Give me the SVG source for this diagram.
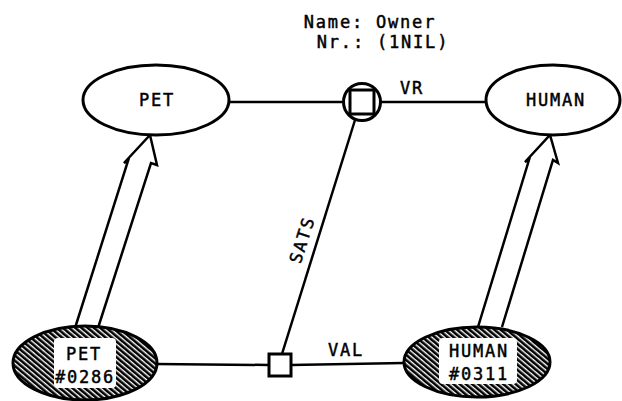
<svg xmlns="http://www.w3.org/2000/svg" width="622" height="401" viewBox="0 0 622 401">
<style>
.t{font-family:"DejaVu Sans Mono","Liberation Mono",monospace;font-size:17px;letter-spacing:1.8px;fill:#000;stroke:#000;stroke-width:0.45;text-anchor:middle}
.o{fill:#fff;stroke:#000;stroke-width:3}
.h{fill:url(#hatch);stroke:#000;stroke-width:3}
.c{fill:none;stroke:#000;stroke-width:2.5;stroke-linejoin:round}
.a{fill:none;stroke:#000;stroke-width:2.5;stroke-linejoin:miter}
</style>
<defs>
<pattern id="hatch" patternUnits="userSpaceOnUse" width="4" height="4" patternTransform="rotate(-50)">
<rect width="4" height="4" fill="#fff"/>
<rect width="2.6" height="4" fill="#000"/>
</pattern>
</defs>
<rect width="622" height="401" fill="#fff"/>
<g id="connectors">
<line class="c" x1="229" y1="102" x2="344" y2="102"/>
<line class="c" x1="380" y1="102" x2="486" y2="102"/>
<line class="c" x1="355" y1="120" x2="282" y2="354"/>
<line class="c" x1="156" y1="364" x2="269" y2="365"/>
<line class="c" x1="291" y1="365" x2="404" y2="363"/>
<path class="a" d="M75,328 L128,161 L124,163 L150,135 L157,165 L151,163 L98,328"/>
<path class="a" d="M478,327 L529,160 L525,162 L550,135 L558,163 L553,160 L502,327"/>
<text class="t" x="412" y="94">VR</text>
<text class="t" x="346" y="356">VAL</text>
<text class="t" transform="translate(303,240) rotate(-72.5)" y="5">SATS</text>
</g>
<g id="title">
<text class="t" x="370" y="28">Name: Owner</text>
<text class="t" x="383" y="48">Nr.: (1NIL)</text>
</g>
<g id="pet">
<ellipse class="o" cx="156" cy="100" rx="73" ry="35"/>
<text class="t" x="157" y="106">PET</text>
</g>
<g id="human">
<ellipse class="o" cx="553" cy="100" rx="67" ry="35"/>
<text class="t" x="556" y="106">HUMAN</text>
</g>
<g id="owner">
<circle class="o" cx="362" cy="102" r="18.5"/>
<rect class="o" x="350" y="90" width="24" height="24" stroke-width="2.5"/>
</g>
<g id="val">
<rect class="o" x="269" y="354" width="22" height="22" stroke-width="2.5"/>
</g>
<g id="pet0286">
<ellipse class="h" cx="85" cy="363" rx="72" ry="37"/>
<rect x="54" y="338" width="62" height="50" rx="4" fill="#fff"/>
<text class="t" x="84" y="360">PET</text>
<text class="t" x="85" y="383">#0286</text>
</g>
<g id="human0311">
<ellipse class="h" cx="477" cy="362" rx="73" ry="35"/>
<rect x="439" y="338" width="78" height="46" rx="4" fill="#fff"/>
<text class="t" x="479" y="357">HUMAN</text>
<text class="t" x="479" y="380">#0311</text>
</g>
</svg>
